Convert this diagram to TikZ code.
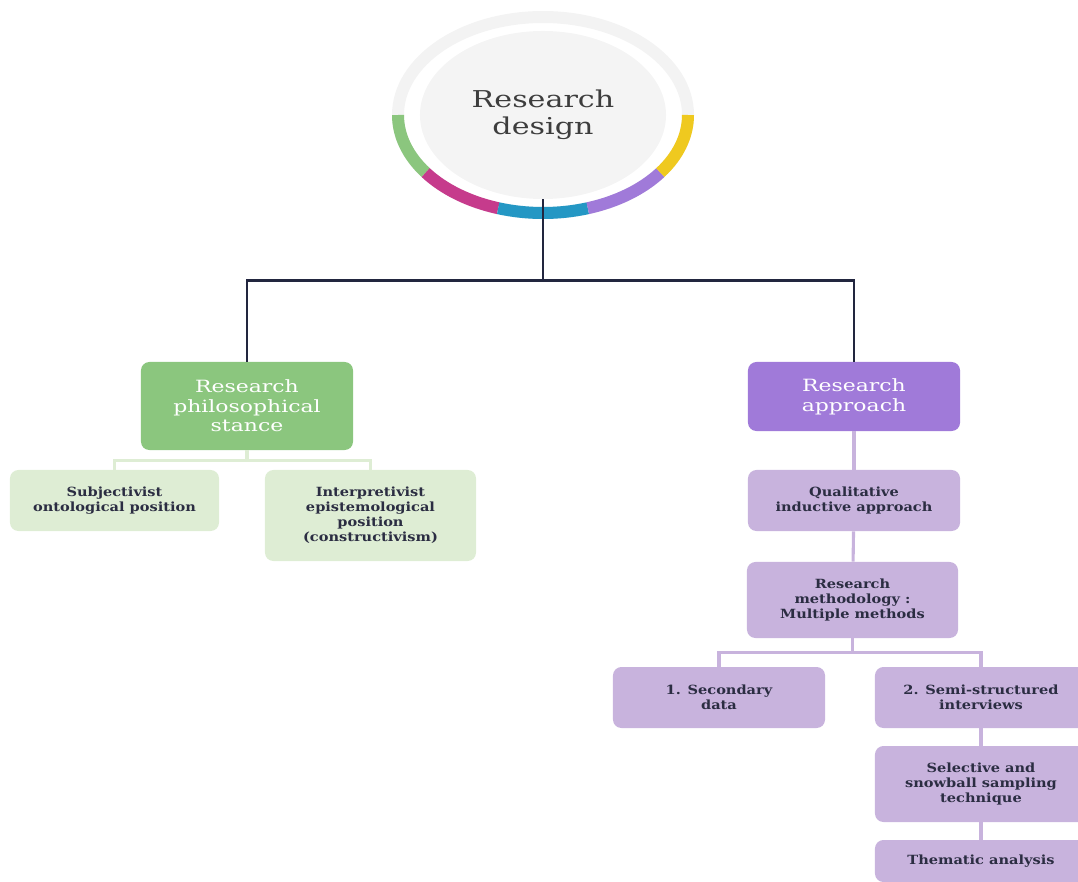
\documentclass[tikz,border=0pt]{standalone}
\usepackage{fontspec}
\setmainfont{DejaVu Serif}
\newfontfamily\titlefont{DejaVu Serif}[FakeStretch=1.3]
\newfontfamily\headfont{DejaVu Serif}[FakeStretch=1.3]
\newfontfamily\leaffont{DejaVu Serif}[FakeStretch=1.15]
\usetikzlibrary{shapes.geometric}

\definecolor{ringgray}{HTML}{F3F3F3}
\definecolor{discgray}{HTML}{F4F4F4}
\definecolor{titlegray}{HTML}{3D3D3D}
\definecolor{navy}{HTML}{22263F}
\definecolor{darktext}{HTML}{2B2D42}
\definecolor{stancegreen}{HTML}{8BC67E}
\definecolor{lightgreen}{HTML}{DEEDD4}
\definecolor{approachpurple}{HTML}{A07AD9}
\definecolor{lightpurple}{HTML}{C8B3DD}
\definecolor{ringgreen}{HTML}{8BC67E}
\definecolor{ringmagenta}{HTML}{C63B8C}
\definecolor{ringblue}{HTML}{2497C4}
\definecolor{ringpurple}{HTML}{A07AD9}
\definecolor{ringyellow}{HTML}{EFC91F}

\tikzset{
    headbox/.style={rectangle, rounded corners=6pt, text=white, align=center,
        minimum width=5.3cm, font=\headfont\fontsize{12}{14}\selectfont, inner sep=2pt},
    leafbox/.style={rectangle, rounded corners=6pt, text=darktext, align=center,
        minimum width=5.3cm, minimum height=1.525cm,
        font=\leaffont\bfseries\fontsize{9}{10.6}\selectfont, inner sep=2pt},
    mainline/.style={navy, line width=2pt},
    greenline/.style={lightgreen, line width=2.2pt},
    purpleline/.style={lightpurple, line width=2.2pt},
    ringseg/.style={line width=0.3cm}
}

\begin{document}
\begin{tikzpicture}[x=0.025cm, y=-0.025cm]
        \useasboundingbox (0,0) rectangle (1078,881);
        \clip (0,0) rectangle (1078,881);

        % Ring
        \draw[ringgray, ringseg] (543,115) ellipse [x radius=145, y radius=98];
        \draw[ringgreen, ringseg] (543,115) ++(180:145 and 98) arc[start angle=180, end angle=144, x radius=145, y radius=98];
        \draw[ringmagenta, ringseg] (543,115) ++(144:145 and 98) arc[start angle=144, end angle=108, x radius=145, y radius=98];
        \draw[ringblue, ringseg] (543,115) ++(108:145 and 98) arc[start angle=108, end angle=72, x radius=145, y radius=98];
        \draw[ringpurple, ringseg] (543,115) ++(72:145 and 98) arc[start angle=72, end angle=36, x radius=145, y radius=98];
        \draw[ringyellow, ringseg] (543,115) ++(36:145 and 98) arc[start angle=36, end angle=0, x radius=145, y radius=98];

        % Centre
        \node[ellipse, fill=discgray, minimum width=6.15cm, minimum height=4.2cm, inner sep=0pt,
            text=titlegray, align=center, font=\titlefont\fontsize{16.5}{19}\selectfont] (design) at (543,115) {Research\\design};

        % Main branches
        \node[headbox, fill=stancegreen, minimum height=2.2cm] (stance) at (247,406) {Research\\philosophical\\stance};
        \node[headbox, fill=approachpurple, minimum height=1.725cm] (approach) at (854,396.5) {Research\\approach};

        % Stance leaves
        \node[leafbox, fill=lightgreen, minimum width=5.225cm] (subj) at (114.5,500.5) {Subjectivist\\ontological position};
        \node[leafbox, fill=lightgreen, minimum width=5.275cm, minimum height=2.275cm] (interp) at (370.5,515.5) {Interpretivist\\epistemological\\position\\(constructivism)};

        % Approach leaves
        \node[leafbox, fill=lightpurple] (qual) at (854,500.5) {Qualitative\\inductive approach};
        \node[leafbox, fill=lightpurple, minimum width=5.275cm, minimum height=1.9cm] (method) at (852.5,600) {Research\\methodology :\\Multiple methods};
        \node[leafbox, fill=lightpurple] (second) at (719,697.5) {1. Secondary\\data};
        \node[leafbox, fill=lightpurple] (semi) at (981,697.5) {2. Semi-structured\\interviews};
        \node[leafbox, fill=lightpurple, minimum height=1.9cm] (sampling) at (981,784) {Selective and\\snowball sampling\\technique};
        \node[leafbox, fill=lightpurple, minimum height=1.05cm] (thematic) at (981,861) {Thematic analysis};

        % Connectors
        \draw[mainline] (design.south) -- ++(0,81) -| (stance.north);
        \draw[mainline] (design.south) -- ++(0,81) -| (approach.north);

        \draw[greenline] (stance.south) -- ++(0,10) -| (subj.north);
        \draw[greenline] (stance.south) -- ++(0,10) -| (interp.north);

        \draw[purpleline] (approach) -- (qual);
        \draw[purpleline] (qual) -- (method);
        \draw[purpleline] (method.south) -- ++(0,14) -| (second.north);
        \draw[purpleline] (method.south) -- ++(0,14) -| (semi.north);
        \draw[purpleline] (semi) -- (sampling);
        \draw[purpleline] (sampling) -- (thematic);
    \end{tikzpicture}
\end{document}
